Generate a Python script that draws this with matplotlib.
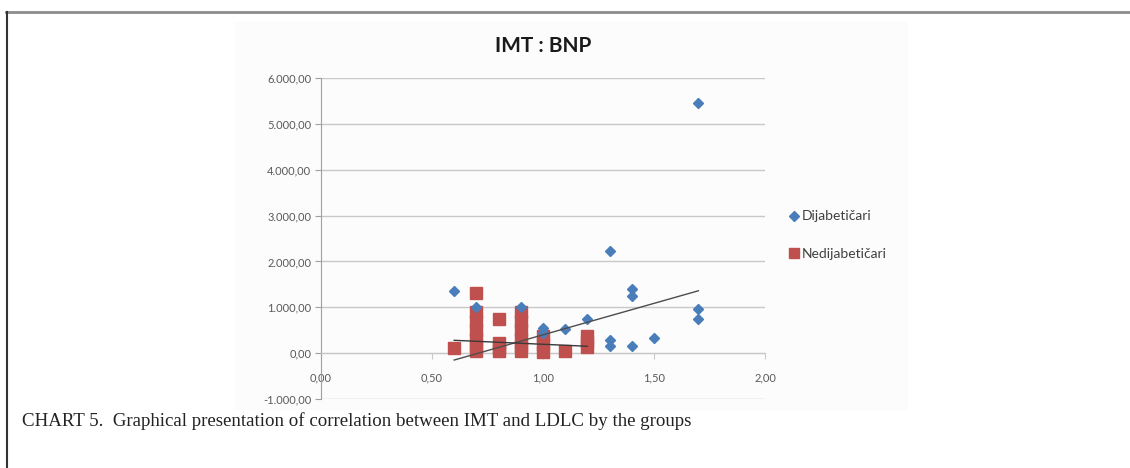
import matplotlib.pyplot as plt
from matplotlib.lines import Line2D
from matplotlib.patches import Rectangle
from matplotlib.ticker import FuncFormatter

W, H = 1130, 468

# Dijabeticari (blue diamonds)
diab_x = [0.6, 0.7, 0.9, 1.0, 1.0, 1.1, 1.2, 1.3, 1.3, 1.3, 1.4, 1.4, 1.4, 1.5, 1.7, 1.7, 1.7]
diab_y = [1360, 1000, 1000, 550, 450, 530, 735, 2220, 293, 146, 1396, 1250, 146, 330, 5450, 955, 735]

# Nedijabeticari (red squares)
nedi_x = [0.6,
          0.7, 0.7, 0.7, 0.7, 0.7, 0.7, 0.7,
          0.8, 0.8, 0.8, 0.8,
          0.9, 0.9, 0.9, 0.9, 0.9, 0.9,
          1.0, 1.0, 1.0,
          1.1,
          1.2, 1.2, 1.2]
nedi_y = [110,
          1320, 900, 700, 500, 300, 150, 40,
          740, 230, 120, 40,
          900, 700, 500, 300, 150, 40,
          380, 200, 20,
          55,
          370, 250, 130]

# trend lines as drawn in the source chart
trend_diab_x = [0.6, 1.7]
trend_diab_y = [-150, 1360]
trend_nedi_x = [0.6, 1.2]
trend_nedi_y = [280, 150]

x_ticks = [0.0, 0.5, 1.0, 1.5, 2.0]
y_ticks = [-1000, 0, 1000, 2000, 3000, 4000, 5000, 6000]

BLUE = '#4a7ebb'
RED = '#c0504d'
GRID = '#c8c8c8'
TXT = '#595959'


def num_fmt(v, pos=None):
    s = f'{v:,.2f}'
    return s.replace(',', 'X').replace('.', ',').replace('X', '.')


fig = plt.figure(figsize=(W / 100, H / 100), dpi=100)

# page frame
fig.add_artist(Line2D([6 / W, 1.0], [1 - 12 / H, 1 - 12 / H], color='#8c8c8c', lw=2))
fig.add_artist(Line2D([7 / W, 7 / W], [0, 1 - 12 / H], color='#333333', lw=1.5))
# pasted chart background
fig.add_artist(Rectangle((234 / W, 1 - 410 / H), (908 - 234) / W, (410 - 22) / H,
                         facecolor='#fcfcfc', edgecolor='none', zorder=0))

ax = fig.add_axes([321 / W, 1 - 399 / H, (765 - 321) / W, (399 - 78) / H])
ax.set_facecolor('none')
ax.set_xlim(0, 2)
ax.set_ylim(-1000, 6000)

for v in y_ticks:
    ax.axhline(v, color=GRID, lw=1, zorder=1)

ax.plot(nedi_x, nedi_y, 's', color=RED, ms=8.6, mec=RED, label='Nedijabetičari', zorder=3)
ax.plot(diab_x, diab_y, 'D', color=BLUE, ms=5.5, mec=BLUE, label='Dijabetičari', zorder=4)
ax.plot(trend_diab_x, trend_diab_y, color='#4d4d4d', lw=1, zorder=5)
ax.plot(trend_nedi_x, trend_nedi_y, color='#3a3a3a', lw=1, zorder=5)

for s in ['top', 'right']:
    ax.spines[s].set_visible(False)
ax.spines['bottom'].set_position(('data', 0))
ax.spines['bottom'].set_color(GRID)
ax.spines['left'].set_color('#a0a0a0')

ax.set_xticks(x_ticks)
ax.set_yticks(y_ticks)
ax.xaxis.set_major_formatter(FuncFormatter(num_fmt))
ax.yaxis.set_major_formatter(FuncFormatter(num_fmt))
ax.tick_params(axis='x', colors=GRID, labelcolor=TXT, length=4, pad=10, labelsize=8)
ax.tick_params(axis='y', colors='#a0a0a0', labelcolor=TXT, length=4, pad=3, labelsize=8)
for lab in ax.get_xticklabels() + ax.get_yticklabels():
    lab.set_family('Lato')

fig.text(543 / W, 1 - 46 / H, 'IMT : BNP', ha='center', va='center',
         fontsize=15, fontweight='bold', family='Lato', color='#1a1a1a')

handles = [Line2D([], [], marker='D', ls='none', color=BLUE, ms=5),
           Line2D([], [], marker='s', ls='none', color=RED, ms=7)]
fig.legend(handles, ['Dijabetičari', 'Nedijabetičari'], loc='center left',
           bbox_to_anchor=(782 / W, 1 - 235 / H), frameon=False,
           prop={'family': 'Lato', 'size': 10}, labelcolor='#404040',
           handletextpad=0.1, handlelength=0.9, labelspacing=1.8, borderaxespad=0)

fig.text(22 / W, 1 - 421 / H,
         'CHART 5.  Graphical presentation of correlation between IMT and LDLC by the groups',
         ha='left', va='center', fontsize=13.6, family='Liberation Serif', color='#222222')

fig.savefig('out.png', dpi=100)
